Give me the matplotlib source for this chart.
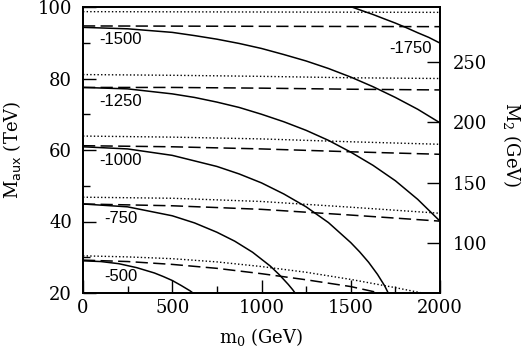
import matplotlib
matplotlib.use("Agg")
import matplotlib.pyplot as plt
from matplotlib.ticker import MultipleLocator, FixedLocator

# ---- data ----
# solid contours: (m0 [GeV], M_aux [TeV])
c1750_m0 = [1500, 1562, 1625, 1687, 1750, 1812, 1875, 1937, 2000]
c1750_M = [100.1, 99.0, 97.9, 96.7, 95.5, 94.2, 92.8, 91.5, 89.9]
c1500_m0 = [0, 250, 500, 625, 750, 875, 1000, 1125, 1250, 1375, 1500, 1625, 1750, 1875, 2000]
c1500_M = [94.3, 93.9, 92.9, 92.0, 91.0, 89.8, 88.4, 86.7, 84.9, 82.8, 80.4, 77.7, 74.7, 71.4, 67.6]
c1250_m0 = [0, 250, 500, 625, 750, 875, 1000, 1125, 1250, 1375, 1500, 1625, 1750, 1875, 2000]
c1250_M = [77.5, 77.1, 75.7, 74.7, 73.4, 71.9, 70.0, 67.9, 65.5, 62.7, 59.4, 55.7, 51.4, 46.2, 40.1]
c1000_m0 = [0, 250, 500, 750, 875, 1000, 1125, 1250, 1375, 1500, 1550, 1600, 1650, 1690, 1710]
c1000_M = [60.9, 60.3, 58.5, 55.4, 53.3, 50.8, 47.7, 44.1, 39.7, 34.1, 31.5, 28.6, 25.2, 22.0, 20.0]
c750_m0 = [0, 250, 500, 625, 750, 850, 950, 1050, 1100, 1150, 1175, 1188]
c750_M = [44.9, 44.1, 41.6, 39.6, 37.0, 34.5, 31.4, 27.5, 25.1, 22.4, 20.9, 20.0]
c500_m0 = [0, 100, 200, 300, 400, 450, 500, 550, 600, 616]
c500_M = [29.0, 28.8, 28.2, 27.1, 25.6, 24.6, 23.5, 22.1, 20.6, 20.0]

contour_labels = ["-1750", "-1500", "-1250", "-1000", "-750", "-500"]
label_m0 = [1955, 210, 210, 210, 210, 210]
label_M = [88.4, 90.8, 73.5, 57.0, 40.7, 24.6]

# dashed lines
d1_m0 = [0, 1000, 2000]
d1_M = [94.7, 94.6, 94.5]
d2_m0 = [0, 500, 1000, 1500, 2000]
d2_M = [77.5, 77.5, 77.3, 77.0, 76.8]
d3_m0 = [0, 500, 1000, 1500, 2000]
d3_M = [61.2, 60.9, 60.3, 59.5, 58.8]
d4_m0 = [0, 500, 1000, 1500, 2000]
d4_M = [44.9, 44.4, 43.4, 41.8, 40.1]
d5_m0 = [0, 250, 500, 750, 1000, 1250, 1500, 1662]
d5_M = [29.2, 28.8, 28.0, 26.9, 25.4, 23.7, 21.8, 20.0]

# dotted lines
p1_m0 = [0, 1000, 2000]
p1_M = [98.7, 98.6, 98.5]
p2_m0 = [0, 500, 1000, 1500, 2000]
p2_M = [81.1, 80.9, 80.6, 80.2, 80.0]
p3_m0 = [0, 500, 1000, 1500, 2000]
p3_M = [63.9, 63.6, 63.1, 62.3, 61.6]
p4_m0 = [0, 500, 1000, 1500, 2000]
p4_M = [46.8, 46.5, 45.6, 44.0, 42.3]
p5_m0 = [0, 250, 500, 750, 1000, 1250, 1500, 1750, 1900]
p5_M = [30.4, 30.1, 29.6, 28.7, 27.4, 25.8, 23.8, 21.5, 20.0]

M2_per_Maux = 2.95  # M2 [GeV] per M_aux [TeV]
right_ticks = [100, 150, 200, 250]

# ---- plot ----
plt.rcParams['mathtext.fontset'] = 'dejavuserif'
fig = plt.figure(figsize=(5.28, 3.52), dpi=100)
ax = fig.add_axes([83/528, 59/352, 357/528, 286/352])

lw = 1.1
solid = [(c1750_m0, c1750_M), (c1500_m0, c1500_M), (c1250_m0, c1250_M),
         (c1000_m0, c1000_M), (c750_m0, c750_M), (c500_m0, c500_M)]
for xs, ys in solid:
    ax.plot(xs, ys, color='black', lw=lw, solid_capstyle='butt')

dashed = [(d1_m0, d1_M), (d2_m0, d2_M), (d3_m0, d3_M), (d4_m0, d4_M), (d5_m0, d5_M)]
for xs, ys in dashed:
    ax.plot(xs, ys, color='black', lw=lw, linestyle=(0, (8, 3.5)))

dotted = [(p1_m0, p1_M), (p2_m0, p2_M), (p3_m0, p3_M), (p4_m0, p4_M), (p5_m0, p5_M)]
for xs, ys in dotted:
    ax.plot(xs, ys, color='black', lw=1.0, linestyle=(0, (1, 1.6)))

for i, (t, x, y) in enumerate(zip(contour_labels, label_m0, label_M)):
    ha = 'right' if i == 0 else 'center'
    ax.text(x, y, t, ha=ha, va='center', fontsize=12,
            family='Liberation Sans', color='black')

ax.set_xlim(0, 2000)
ax.set_ylim(20, 100)
ax.xaxis.set_major_locator(MultipleLocator(500))
ax.xaxis.set_minor_locator(MultipleLocator(250))
ax.yaxis.set_major_locator(MultipleLocator(20))
ax.yaxis.set_minor_locator(MultipleLocator(10))
ax.tick_params(which='both', direction='in', top=False, right=False,
               width=1.0, labelsize=13)
ax.tick_params(which='major', length=9.2)
ax.tick_params(which='minor', length=5)
ax.tick_params(axis='y', pad=8)
ax.tick_params(axis='x', pad=4)
for lab in ax.get_xticklabels() + ax.get_yticklabels():
    lab.set_family('DejaVu Serif')
for s in ax.spines.values():
    s.set_linewidth(1.3)

ax.set_xlabel(r'm$_{0}$ (GeV)', fontsize=13, family='DejaVu Serif')
ax.set_ylabel(r'M$_{\mathsf{aux}}$ (TeV)', fontsize=13, family='DejaVu Serif')
ax.xaxis.set_label_coords(0.5, -0.115)
ax.yaxis.set_label_coords(-0.168, 0.5)

ax2 = ax.twinx()
ax2.set_ylim(20 * M2_per_Maux, 100 * M2_per_Maux)
ax2.yaxis.set_major_locator(FixedLocator(right_ticks))
ax2.yaxis.set_minor_locator(FixedLocator([]))
ax2.tick_params(which='both', direction='in', length=9.2, width=1.0,
                labelsize=13, pad=9)
for lab in ax2.get_yticklabels():
    lab.set_family('DejaVu Serif')
for s in ax2.spines.values():
    s.set_linewidth(1.3)
ax2.set_ylabel(r'M$_{2}$ (GeV)', fontsize=13, family='DejaVu Serif', rotation=270)
ax2.yaxis.set_label_coords(1.232, 0.52)

fig.savefig('out.png', dpi=100)
